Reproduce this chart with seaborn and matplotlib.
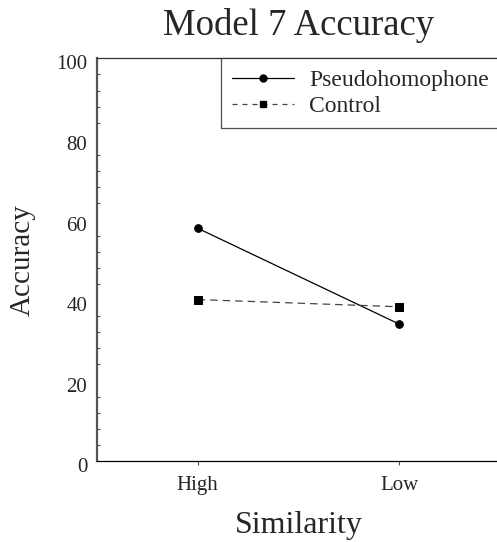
import matplotlib
matplotlib.use('Agg')
import matplotlib.pyplot as plt
from matplotlib.ticker import MultipleLocator
from matplotlib.lines import Line2D
from matplotlib.transforms import ScaledTranslation
import seaborn as sns
import pandas as pd

# values
similarity = ['High', 'Low']
pseudohomophone = [57.8, 34.0]
control = [40.1, 38.3]
y_ticks = [0, 20, 40, 60, 80, 100]

df = pd.DataFrame({
    'Similarity': similarity * 2,
    'Accuracy': pseudohomophone + control,
    'Condition': ['Pseudohomophone'] * 2 + ['Control'] * 2,
})

sns.set_style('white')
plt.rcParams['font.family'] = ['Liberation Serif', 'DejaVu Serif']

fig = plt.figure(figsize=(4.97, 5.42), dpi=100)
ax = fig.add_axes([0.195, 0.1494, 0.811, 0.7430])

# Pseudohomophone: solid line, round markers
sns.lineplot(data=df[df['Condition'] == 'Pseudohomophone'], x='Similarity', y='Accuracy',
             color='black', linewidth=0.9, marker='o', markersize=5.5,
             markerfacecolor='black', markeredgecolor='black', ax=ax)
# Control: dashed line, square markers
sns.lineplot(data=df[df['Condition'] == 'Control'], x='Similarity', y='Accuracy',
             color='#444444', linewidth=0.9, linestyle=(0, (6, 4)), marker='s', markersize=5.5,
             markerfacecolor='black', markeredgecolor='black', ax=ax)

ax.set_xlim(-0.5, 1.5)
ax.set_ylim(0, 100)
ax.set_yticks(y_ticks)
ax.yaxis.set_minor_locator(MultipleLocator(4))

ax.set_title('Model 7 Accuracy', fontsize=26.5, pad=17)
ax.set_xlabel('Similarity', fontsize=23, labelpad=11)
ax.set_ylabel('Accuracy', fontsize=21, labelpad=15)

ax.tick_params(axis='y', which='major', direction='in', length=3.5, width=0.8,
               color='#555555', labelsize=15, pad=7)
ax.tick_params(axis='y', which='minor', direction='in', length=2.2, width=0.8,
               color='#555555', left=True)
ax.tick_params(axis='x', which='major', direction='out', length=3, width=0.8,
               color='#555555', labelsize=15, pad=8, bottom=True)

# tick labels in the reference sit slightly below their ticks
shift = ScaledTranslation(0, -3 / 72, fig.dpi_scale_trans)
for lab in ax.get_yticklabels():
    lab.set_transform(lab.get_transform() + shift)

for side in ['left', 'bottom', 'top']:
    ax.spines[side].set_visible(True)
ax.spines['right'].set_visible(False)
ax.spines['left'].set_color('#555555')
ax.spines['left'].set_linewidth(1.6)
ax.spines['bottom'].set_color('black')
ax.spines['bottom'].set_linewidth(0.9)
ax.spines['top'].set_color('#333333')
ax.spines['top'].set_linewidth(0.9)

handles = [
    Line2D([], [], color='black', linewidth=0.9, marker='o', markersize=5),
    Line2D([], [], color='#444444', linewidth=0.9, linestyle=(0, (4, 4)), marker='s',
           markersize=5, markerfacecolor='black', markeredgecolor='black'),
]
leg = ax.legend(handles, ['Pseudohomophone', 'Control'], loc='upper right',
                fontsize=17, frameon=True, fancybox=False, borderaxespad=0,
                handlelength=2.6, handletextpad=0.65, labelspacing=0.18,
                borderpad=0.48, numpoints=1)
leg.get_frame().set_edgecolor('#222222')
leg.get_frame().set_linewidth(0.9)

fig.savefig('out.png', dpi=100)
